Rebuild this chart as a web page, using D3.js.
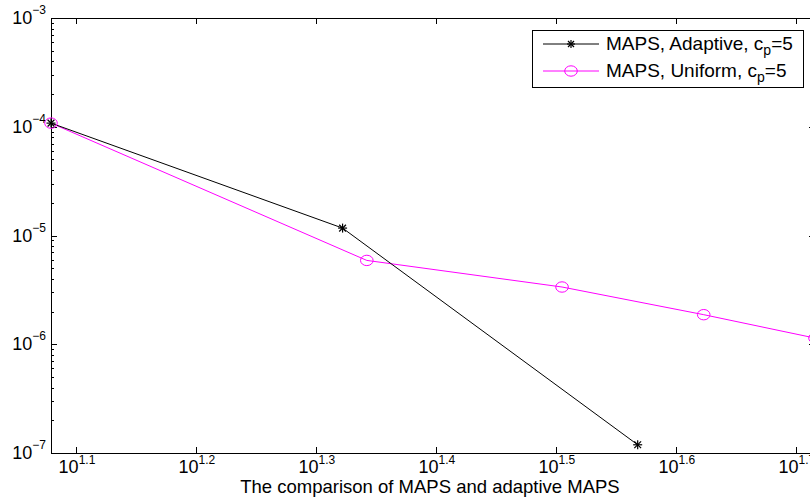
<!DOCTYPE html>
<html>
<head>
<meta charset="utf-8">
<script src="https://cdn.jsdelivr.net/npm/d3@7"></script>
<style>
  body { margin: 0; background: #fff; }
  svg { display: block; }
  text { font-family: "Liberation Sans", Arial, sans-serif; fill: #000; }
</style>
</head>
<body>
<div id="chart"></div>
<script>
// data
var xAdaptive = [12, 21, 37];
var yAdaptive = [1.08e-4, 1.17e-5, 1.19e-7];
var xUniform = [12, 22, 32, 42, 52];
var yUniform = [1.08e-4, 5.9e-6, 3.36e-6, 1.87e-6, 1.14e-6];

var xTickExp = ["1.1", "1.2", "1.3", "1.4", "1.5", "1.6", "1.7"];
var yTickExp = ["-7", "-6", "-5", "-4", "-3"];

var seriesNames = ["MAPS, Adaptive, c", "MAPS, Uniform, c"];
var xTitle = "The comparison of MAPS and adaptive MAPS";

var width = 810, height = 498;
var margin = {top: 18, left: 51, bottom: 45};
var plotRight = 815;   // right frame sits just outside the window

var x = d3.scaleLog().domain([12, 52]).range([margin.left, plotRight]);
var y = d3.scaleLog().domain([1e-7, 1e-3]).range([height - margin.bottom, margin.top]);

var svg = d3.select("#chart").append("svg")
    .attr("width", width)
    .attr("height", height);

var x0 = margin.left, x1 = plotRight, y0 = y.range()[0], y1 = y.range()[1];

// y ticks, major + minor, on left and right
var yMajor = yTickExp.map(function(e) { return Math.pow(10, +e); });
var yMinor = [];
for (var d = -7; d < -3; d++) {
  for (var k = 2; k < 10; k++) yMinor.push(k * Math.pow(10, d));
}
var tickG = svg.append("g").attr("stroke", "#000").attr("stroke-width", 1);
yMajor.forEach(function(v) {
  var py = Math.round(y(v)) + 0.5;
  tickG.append("line").attr("x1", x0).attr("x2", x0 + 6).attr("y1", py).attr("y2", py);
  tickG.append("line").attr("x1", x1).attr("x2", x1 - 6).attr("y1", py).attr("y2", py);
});
yMinor.forEach(function(v) {
  var py = Math.round(y(v)) + 0.5;
  tickG.append("line").attr("x1", x0).attr("x2", x0 + 3).attr("y1", py).attr("y2", py);
  tickG.append("line").attr("x1", x1).attr("x2", x1 - 3).attr("y1", py).attr("y2", py);
});
// x ticks at 10^1.1 ... 10^1.7, bottom and top
xTickExp.forEach(function(e) {
  var px = Math.round(x(Math.pow(10, +e))) + 0.5;
  tickG.append("line").attr("x1", px).attr("x2", px).attr("y1", y0).attr("y2", y0 - 6);
  tickG.append("line").attr("x1", px).attr("x2", px).attr("y1", y1).attr("y2", y1 + 6);
});

// frame
svg.append("rect")
    .attr("x", x0 + 0.5).attr("y", y1 + 0.5)
    .attr("width", x1 - x0).attr("height", y0 - y1)
    .attr("fill", "none").attr("stroke", "#000").attr("stroke-width", 1);

// tick labels
yTickExp.forEach(function(e) {
  var t = svg.append("text")
      .attr("x", x0 - 5)
      .attr("y", y(Math.pow(10, +e)) + 6)
      .attr("text-anchor", "end")
      .style("font-size", "18px");
  t.append("tspan").text("10");
  t.append("tspan").attr("dy", -10).style("font-size", "12px").text(e.replace("-", "\u2212"));
});
xTickExp.forEach(function(e) {
  var t = svg.append("text")
      .attr("x", x(Math.pow(10, +e)) + 1)
      .attr("y", y0 + 20)
      .attr("text-anchor", "middle")
      .style("font-size", "18px");
  t.append("tspan").text("10");
  t.append("tspan").attr("dy", -9).style("font-size", "12px").text(e);
});

svg.append("text")
    .attr("x", 430)
    .attr("y", 493)
    .attr("text-anchor", "middle")
    .style("font-size", "18.5px")
    .text(xTitle);

// series
var line = d3.line().x(function(d) { return x(d[0]); }).y(function(d) { return y(d[1]); });
var adaptive = d3.zip(xAdaptive, yAdaptive);
var uniform = d3.zip(xUniform, yUniform);

svg.append("path").datum(uniform)
    .attr("d", line).attr("fill", "none").attr("stroke", "#ff00ff").attr("stroke-width", 1);
svg.append("path").datum(adaptive)
    .attr("d", line).attr("fill", "none").attr("stroke", "#000").attr("stroke-width", 1);

function star(g, cx, cy, r) {
  var s = g.append("g").attr("stroke", "#000").attr("stroke-width", 1.2);
  s.append("line").attr("x1", cx - r).attr("x2", cx + r).attr("y1", cy).attr("y2", cy);
  s.append("line").attr("x1", cx).attr("x2", cx).attr("y1", cy - r).attr("y2", cy + r);
  var q = r * 0.75;
  s.append("line").attr("x1", cx - q).attr("x2", cx + q).attr("y1", cy - q).attr("y2", cy + q);
  s.append("line").attr("x1", cx - q).attr("x2", cx + q).attr("y1", cy + q).attr("y2", cy - q);
}
function ring(g, cx, cy) {
  g.append("ellipse").attr("cx", cx).attr("cy", cy).attr("rx", 6.3).attr("ry", 5.2)
      .attr("fill", "none").attr("stroke", "#ff00ff").attr("stroke-width", 1);
}

uniform.forEach(function(d) { ring(svg, x(d[0]), y(d[1])); });
adaptive.forEach(function(d) { star(svg, x(d[0]), y(d[1]), 4.5); });

// legend
var lg = svg.append("g");
lg.append("rect")
    .attr("x", 532.5).attr("y", 30.5).attr("width", 271).attr("height", 57)
    .attr("fill", "#fff").attr("stroke", "#000").attr("stroke-width", 1);
var rows = [44, 71];
var colors = ["#000", "#ff00ff"];
rows.forEach(function(ry, i) {
  lg.append("line").attr("x1", 543).attr("x2", 599).attr("y1", ry).attr("y2", ry)
      .attr("stroke", colors[i]).attr("stroke-width", 1);
  if (i === 0) star(lg, 571, ry, 4); else ring(lg, 571, ry);
  var t = lg.append("text").attr("x", 606).attr("y", ry + 6).style("font-size", "19px");
  t.append("tspan").text(seriesNames[i]);
  t.append("tspan").attr("dy", 5).style("font-size", "14px").text("p");
  t.append("tspan").attr("dy", -5).text("=5");
});
</script>
</body>
</html>
